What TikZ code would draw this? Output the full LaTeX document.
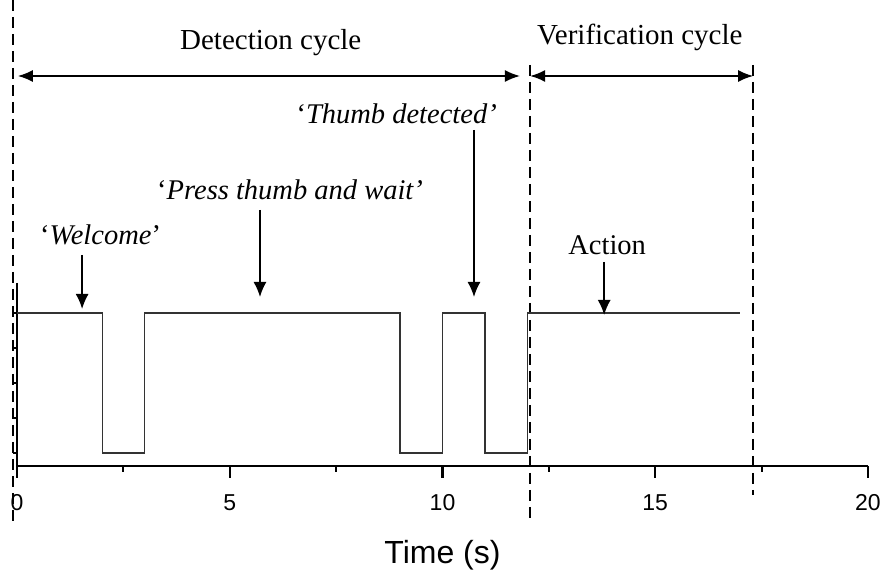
\documentclass[tikz,border=0pt]{standalone}
\usepackage{fontspec}
\setmainfont{Liberation Serif}
\setsansfont{Liberation Sans}
\usetikzlibrary{arrows.meta}

\tikzset{
  lbl/.style={font=\fontsize{28.5}{32}\selectfont, inner sep=0pt},
  ticklbl/.style={font=\sffamily\fontsize{23}{26}\selectfont, inner sep=0pt, anchor=base},
  cyclearrow/.style={{Latex[length=15pt,width=12pt]}-{Latex[length=15pt,width=12pt]}, line width=1.6pt},
  pointer/.style={-{Latex[length=15pt,width=13pt]}, line width=1.6pt},
  bound/.style={dash pattern=on 11pt off 6pt, line width=2pt},
}

\begin{document}
\begin{tikzpicture}[x=42.55pt, y=-1pt]
\useasboundingbox (-0.4,0) rectangle (20.4,572);
% cycle boundaries
\draw[bound] (-0.1,0) -- (-0.1,525);
\draw[bound] (12.05,65) -- (12.05,520);
\draw[bound] (17.3,65) -- (17.3,495);
% axes
\draw[line width=2.4pt] (0,283) -- (0,466) -- (20,466);
\foreach \y in {313,348,383,418,453}
  \draw[line width=1.6pt] (0,\y) -- (-0.1,\y);
\foreach \x in {0,5,...,20} {
  \draw[line width=2.2pt] (\x,466) -- (\x,478);
  \node[ticklbl] (t\x) at (\x,511) {\x};
}
\foreach \x in {2.5,7.5,12.5,17.5}
  \draw[line width=2.2pt] (\x,466) -- (\x,472);
\node[ticklbl, font=\sffamily\fontsize{32}{36}\selectfont] (tlabel) at (10,564) {Time (s)};

% signal
\draw[line width=1.2pt, black!80] (0,313) -- (2,313) -- (2,453) -- (3,453) -- (3,313)
  -- (9,313) -- (9,453) -- (10,453) -- (10,313) -- (11,313) -- (11,453) -- (12,453)
  -- (12,313) -- (17,313);

% cycles
\coordinate (d0) at (0.02,76);
\coordinate (d1) at (11.82,76);
\coordinate (v0) at (12.06,76);
\coordinate (v1) at (17.3,76);
\draw[cyclearrow] (d0) -- (d1);
\draw[cyclearrow] (v0) -- (v1);
\node[lbl, font=\fontsize{29}{33}\selectfont, anchor=base west] (det) at (3.83,50) {Detection cycle};
\node[lbl, font=\fontsize{29}{33}\selectfont, anchor=base west] (ver) at (12.22,45) {Verification cycle};

% messages
\node[lbl, anchor=base west] (wel) at (0.54,245) {`\textit{Welcome}'};
\node[lbl, anchor=base west] (prs) at (3.29,200) {`\textit{Press thumb and wait'}};
\node[lbl, anchor=base east] (thb) at (11.28,124) {`\textit{Thumb detected'}};
\node[lbl, anchor=base] (act) at (13.87,255) {Action};

\coordinate (wel0) at (1.53,255);
\coordinate (wel1) at (1.53,309);
\coordinate (prs0) at (5.71,210);
\coordinate (prs1) at (5.71,297);
\coordinate (thb0) at (10.74,130);
\coordinate (thb1) at (10.74,297);
\coordinate (act0) at (13.8,262);
\coordinate (act1) at (13.8,315);
\draw[pointer] (wel0) -- (wel1);
\draw[pointer] (prs0) -- (prs1);
\draw[pointer] (thb0) -- (thb1);
\draw[pointer] (act0) -- (act1);
\end{tikzpicture}
\end{document}
